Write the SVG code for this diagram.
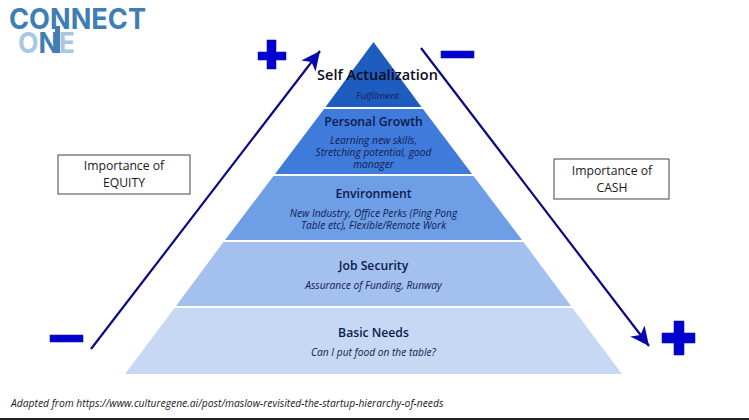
<svg xmlns="http://www.w3.org/2000/svg" width="749" height="420" viewBox="0 0 749 420">
<style>
.t{font-family:"Open Sans","Noto Sans",sans-serif;text-anchor:middle}
.h{font-size:12.2px;font-weight:600;fill:#0b1a4a}
.s{font-size:10.2px;font-style:italic;fill:#12204f}
.b{fill:#fff;stroke:#444;stroke-width:1}
.l{font-size:12.2px;fill:#1a1a1a}
.sym{fill:#0000d0;stroke:#1a1aa0;stroke-width:.6}
.cn{stroke:#0a0a80;stroke-width:2.2;fill:none;marker-end:url(#a)}
.lg{font-family:"Inter","Liberation Sans",sans-serif;font-weight:700;font-size:28px}
</style>
<defs><marker id="a" markerUnits="userSpaceOnUse" markerWidth="20" markerHeight="20" refX="19" refY="9" orient="auto"><path d="M0 0L19 9L0 18L5 9Z" fill="#0808b0"/></marker></defs>
<rect width="749" height="420" fill="#fff"/>
<g id="logo">
<text class="lg" x="9" y="29" fill="#3f7db5" textLength="137" lengthAdjust="spacingAndGlyphs">CONNECT</text>
<text class="lg" x="18" y="53" fill="#a6c8e2" textLength="57" lengthAdjust="spacingAndGlyphs">O<tspan fill="#3f7db5">N</tspan>E</text>
<rect x="55" y="26" width="5" height="27" fill="#3f7db5"/>
</g>
<g id="level-self">
<path d="M373.500 42L421.500 107H325.500Z" fill="#1f5cc0"/>
<text class="t" x="377.500" y="80" font-size="14.500" font-weight="600" fill="#0c0c1c">Self Actualization</text>
<text class="t s" x="377.500" y="99" style="font-size:9.800px">Fulfilment</text>
</g>
<g id="level-growth">
<path d="M324 109H423L472 174H275Z" fill="#3f7bdb"/>
<text class="t h" x="373.500" y="126">Personal Growth</text>
<text class="t s" x="373.500" y="144">Learning new skills,</text>
<text class="t s" x="373.500" y="156">Stretching potential, good</text>
<text class="t s" x="373.500" y="168">manager</text>
</g>
<g id="level-environment">
<path d="M273.500 176H473.500L522 240H225Z" fill="#6e9ee6"/>
<text class="t h" x="373.500" y="198">Environment</text>
<text class="t s" x="373.500" y="217">New Industry, Office Perks (Ping Pong</text>
<text class="t s" x="373.500" y="229">Table etc), Flexible/Remote Work</text>
</g>
<g id="level-security">
<path d="M223.500 242H523.500L571 306H176Z" fill="#a3c0ef"/>
<text class="t h" x="373.500" y="270">Job Security</text>
<text class="t s" x="373.500" y="289">Assurance of Funding, Runway</text>
</g>
<g id="level-basic">
<path d="M174.500 308H572.500L622 374H125Z" fill="#c7d8f5"/>
<text class="t h" x="373.500" y="337">Basic Needs</text>
<text class="t s" x="373.500" y="356">Can I put food on the table?</text>
</g>
<g id="connectors">
<line class="cn" x1="91" y1="349" x2="320" y2="51"/>
<line class="cn" x1="421" y1="48" x2="649" y2="346"/>
</g>
<g id="equity"><rect class="b" x="58" y="155" width="132" height="39"/>
<text class="t l" x="124" y="170">Importance of</text><text class="t l" x="124" y="187">EQUITY</text></g>
<g id="cash"><rect class="b" x="554" y="159" width="115" height="40"/>
<text class="t l" x="612" y="175">Importance of</text><text class="t l" x="612" y="192">CASH</text></g>
<g id="plus-left"><path class="sym" d="M267 40H276V52H286V60H276V69H267V60H258V52H267Z"/></g>
<g id="minus-top"><rect class="sym" x="441" y="51" width="33" height="7"/></g>
<g id="minus-left"><rect class="sym" x="50" y="335" width="33" height="7"/></g>
<g id="plus-right"><path class="sym" d="M674 321H684V333H695V343H684V355H674V343H662V333H674Z"/></g>
<text id="source" x="11" y="407" font-family="'Open Sans','Noto Sans',sans-serif" font-size="10.300" font-style="italic" fill="#1a1a1a">Adapted from https://www.culturegene.ai/post/maslow-revisited-the-startup-hierarchy-of-needs</text>
<rect id="edge" x="0" y="418" width="749" height="2" fill="#222"/>
</svg>
